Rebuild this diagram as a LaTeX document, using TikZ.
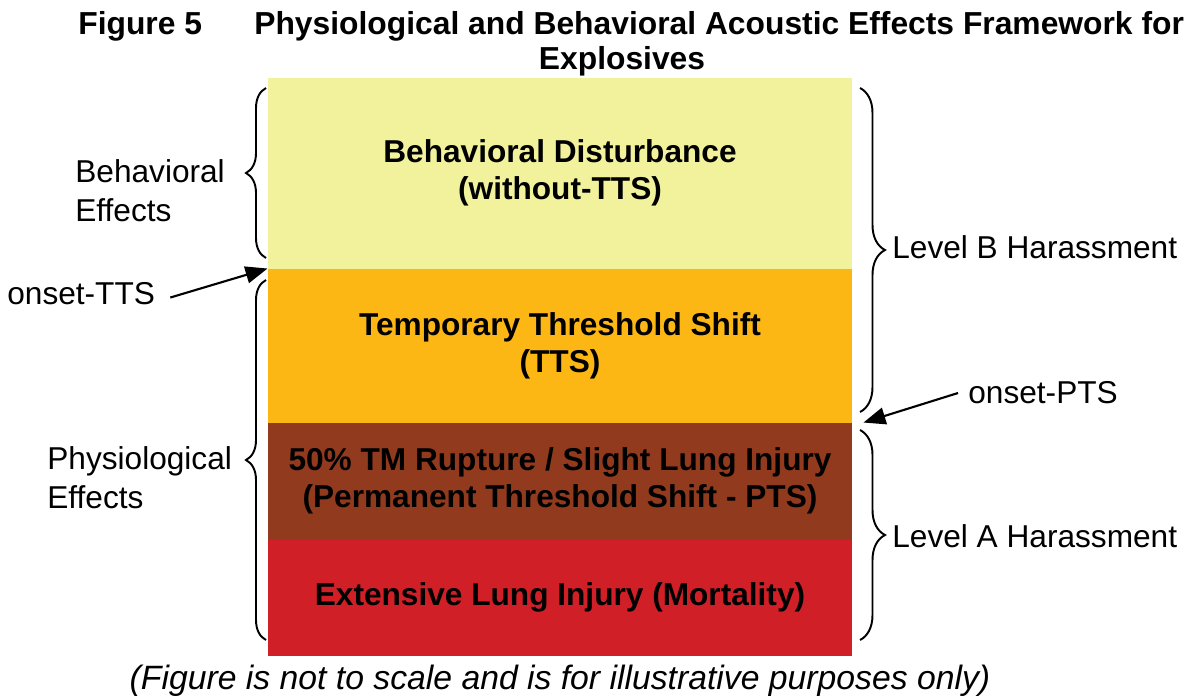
\documentclass[tikz,border=0pt]{standalone}
\usepackage{fontspec}
\setmainfont{Liberation Sans}
\usetikzlibrary{positioning,arrows.meta,decorations.pathreplacing}

\definecolor{disturb}{HTML}{F2F29C}
\definecolor{ttsorange}{HTML}{FDB714}
\definecolor{ptsbrown}{HTML}{913A1E}
\definecolor{lethal}{HTML}{D01F26}

\tikzset{
  title/.style={inner sep=0pt, font=\fontsize{18.1}{20}\selectfont\bfseries},
  layer/.style={minimum width=11.68cm, inner sep=0pt, align=center,
    fill=#1, draw=#1, line width=0.6pt,
    font=\fontsize{18}{21}\selectfont\bfseries},
  lbl/.style={inner sep=0pt, align=left, font=\fontsize{18}{22}\selectfont},
  brace/.style={decorate, decoration={brace, amplitude=#1}, line width=1.1pt},
  brace/.default=0.4cm,
  pointer/.style={-{Triangle[length=0.44cm,width=0.34cm]}, line width=1.2pt},
}

\begin{document}
\begin{tikzpicture}[x=0.02cm,y=-0.02cm]
\useasboundingbox (0,0) rectangle (1189,698);

% heading
\node[title, anchor=west] (fig) at (78,26) {Figure 5};
\node[title, anchor=west] (ttl) at (254,26) {Physiological and Behavioral Acoustic Effects Framework for};
\node[title] (ttl2) at (622,61) {Explosives};

% the four layers, top to bottom
\node[layer=disturb, minimum height=3.8cm] (bd) at (560,173)
  {Behavioral Disturbance\\(without-TTS)};
\node[layer=ttsorange, minimum height=3.06cm, below=0pt of bd] (tts)
  {Temporary Threshold Shift\\(TTS)};
\node[layer=ptsbrown, minimum height=2.32cm, below=0pt of tts] (pts)
  {50\% TM Rupture / Slight Lung Injury\\(Permanent Threshold Shift - PTS)};
\node[layer=lethal, minimum height=2.3cm, below=0pt of pts] (mort)
  {Extensive Lung Injury (Mortality)};

% braces
\draw[brace] (266,258) -- (266,88);
\draw[brace] (266,640) -- (266,280);
\draw[brace=0.5cm] (860,88) -- (860,412);
\draw[brace=0.5cm] (860,430) -- (860,640);

% side labels
\node[lbl, anchor=west] (beh) at (75,191) {Behavioral\\Effects};
\node[lbl, anchor=west] (phys) at (47,478) {Physiological\\Effects};
\node[lbl, anchor=west] (lvlb) at (892,247) {Level B Harassment};
\node[lbl, anchor=west] (lvla) at (892,536) {Level A Harassment};

% onsets
\node[lbl, anchor=west] (otts) at (7,294) {onset-TTS};
\node[lbl, anchor=west] (opts) at (968,393) {onset-PTS};
\coordinate (ptsmark) at ([xshift=0.22cm]pts.north east);
\draw[pointer] ([xshift=0.3cm,yshift=-2pt]otts.east) -- (tts.north west);
\draw[pointer] ([xshift=-0.2cm]opts.west) -- (ptsmark);

\node[font=\fontsize{19.2}{22}\selectfont\itshape] (note) at (560,681)
  {(Figure is not to scale and is for illustrative purposes only)};
\end{tikzpicture}
\end{document}
